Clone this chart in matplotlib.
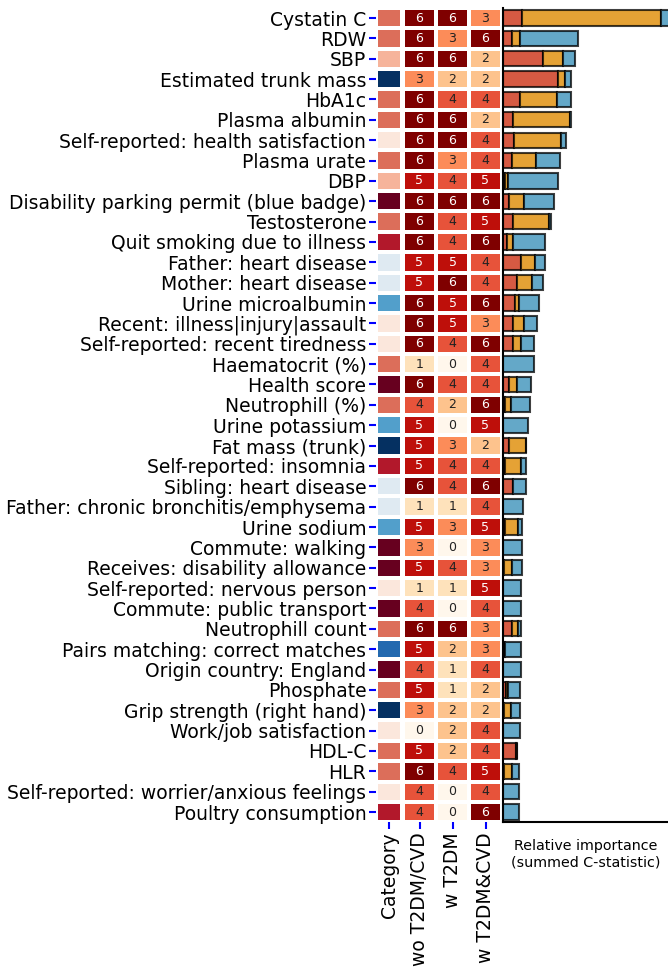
import numpy as np
import matplotlib.pyplot as plt
from matplotlib.colors import ListedColormap

FEATURES = [
    "Cystatin C", "RDW", "SBP", "Estimated trunk mass", "HbA1c", "Plasma albumin",
    "Self-reported: health satisfaction", "Plasma urate", "DBP",
    "Disability parking permit (blue badge)", "Testosterone", "Quit smoking due to illness",
    "Father: heart disease", "Mother: heart disease", "Urine microalbumin",
    "Recent: illness|injury|assault", "Self-reported: recent tiredness", "Haematocrit (%)",
    "Health score", "Neutrophill (%)", "Urine potassium", "Fat mass (trunk)",
    "Self-reported: insomnia", "Sibling: heart disease", "Father: chronic bronchitis/emphysema",
    "Urine sodium", "Commute: walking", "Receives: disability allowance",
    "Self-reported: nervous person", "Commute: public transport", "Neutrophill count",
    "Pairs matching: correct matches", "Origin country: England", "Phosphate",
    "Grip strength (right hand)", "Work/job satisfaction", "HDL-C", "HLR",
    "Self-reported: worrier/anxious feelings", "Poultry consumption",
]
CATEGORY = [
    "blood", "blood", "bp", "body", "blood", "blood",
    "psycho", "blood", "bp",
    "socio", "blood", "lifestyle",
    "family", "family", "urine",
    "psycho", "psycho", "blood",
    "socio", "blood", "urine", "body",
    "lifestyle", "family", "family",
    "urine", "socio", "socio",
    "psycho", "socio", "blood",
    "cognitive", "socio", "blood",
    "body", "psycho", "blood", "blood",
    "psycho", "lifestyle",
]
CATEGORY_NAMES = ["socio", "lifestyle", "blood", "bp", "psycho", "family", "urine", "cognitive", "body"]
CATEGORY_COLORS = ["#67001f", "#b2182b", "#dc6e5a", "#f6b49b", "#fbe7dc",
                   "#dfeaf2", "#529fcb", "#2369af", "#053061"]

RANK_COLUMNS = ["wo T2DM/CVD", "w T2DM", "w T2DM&CVD"]
RANK_WO = [6, 6, 6, 3, 6, 6, 6, 6, 5, 6, 6, 6, 5, 5, 6, 6, 6, 1, 6, 4,
           5, 5, 5, 6, 1, 5, 3, 5, 1, 4, 6, 5, 4, 5, 3, 0, 5, 6, 4, 4]
RANK_T2DM = [6, 3, 6, 2, 4, 6, 6, 3, 4, 6, 4, 4, 5, 6, 5, 5, 4, 0, 4, 2,
             0, 3, 4, 4, 1, 3, 0, 4, 1, 0, 6, 2, 1, 1, 2, 2, 2, 4, 0, 0]
RANK_BOTH = [3, 6, 2, 2, 4, 2, 4, 4, 5, 6, 5, 6, 4, 4, 6, 3, 6, 4, 4, 6,
             5, 2, 4, 6, 4, 5, 3, 3, 5, 4, 3, 3, 4, 2, 2, 4, 4, 5, 4, 6]

# summed C-statistic contributions, one list per model
IMP_WO = [0.019, 0.009, 0.040, 0.0547, 0.017, 0.0097, 0.011, 0.0093, 0.0017, 0.0057,
          0.0097, 0.0043, 0.0177, 0.0137, 0.0117, 0.0097, 0.0097, 0.0, 0.006, 0.002,
          0.0, 0.0057, 0.0023, 0.010, 0.0, 0.0023, 0.0, 0.0005, 0.0, 0.0,
          0.009, 0.002, 0.0, 0.003, 0.0005, 0.0, 0.0125, 0.001, 0.0, 0.0]
IMP_T2DM = [0.1387, 0.008, 0.0197, 0.0073, 0.0373, 0.0573, 0.0473, 0.024, 0.0033, 0.0153,
            0.036, 0.006, 0.0143, 0.0153, 0.0043, 0.0116, 0.0086, 0.0, 0.0083, 0.0063,
            0.0, 0.0173, 0.0154, 0.0, 0.0, 0.0124, 0.0, 0.0082, 0.0, 0.0,
            0.0057, 0.0, 0.0, 0.002, 0.0075, 0.0, 0.0015, 0.008, 0.0, 0.0]
IMP_BOTH = [0.012, 0.058, 0.0126, 0.006, 0.0134, 0.0005, 0.005, 0.0234, 0.050, 0.0297,
            0.0023, 0.032, 0.010, 0.0113, 0.020, 0.013, 0.013, 0.031, 0.014, 0.0184,
            0.0253, 0.0, 0.0053, 0.013, 0.0203, 0.004, 0.0187, 0.010, 0.0183, 0.0183,
            0.0033, 0.0157, 0.0177, 0.0123, 0.009, 0.017, 0.0, 0.007, 0.0157, 0.0157]

RED = "#d65a43"
ORANGE = "#e5a235"
BLUE = "#64a8c8"

n_rows = len(FEATURES)
cat_idx = np.array([[CATEGORY_NAMES.index(c)] for c in CATEGORY])
ranks = np.array([RANK_WO, RANK_T2DM, RANK_BOTH]).T

fig = plt.figure(figsize=(6.68, 9.68), dpi=100)
bottom, height = 0.1506, 0.8413
ax_cat = fig.add_axes([376 / 668, bottom, 26 / 668, height])
ax_rank = fig.add_axes([403 / 668, bottom, 99 / 668, height])
ax_bar = fig.add_axes([503 / 668, bottom, 166 / 668, height])

# category column
ax_cat.pcolormesh(np.arange(2), np.arange(n_rows + 1), cat_idx,
                  cmap=ListedColormap(CATEGORY_COLORS), vmin=-0.5, vmax=len(CATEGORY_COLORS) - 0.5,
                  edgecolors="white", linewidth=1.5)
ax_cat.set_ylim(n_rows, 0)
ax_cat.set_xlim(0, 1)
ax_cat.set_yticks(np.arange(n_rows) + 0.5)
ax_cat.set_yticklabels(FEATURES, fontsize=13.5)
ax_cat.set_xticks([0.5])
ax_cat.set_xticklabels(["Category"], rotation=90, fontsize=13.5)
ax_cat.tick_params(color="blue", length=5, width=1.5, pad=2)

# rank heatmap
ax_rank.pcolormesh(np.arange(4), np.arange(n_rows + 1), ranks, cmap="OrRd", vmin=0, vmax=6,
                   edgecolors="white", linewidth=1.5)
for row in range(n_rows):
    for col in range(3):
        rank = ranks[row, col]
        ax_rank.text(col + 0.5, row + 0.5, str(rank), ha="center", va="center",
                     fontsize=9, color="white" if rank >= 5 else "#222222")
ax_rank.set_ylim(n_rows, 0)
ax_rank.set_xlim(0, 3)
ax_rank.set_yticks([])
ax_rank.set_xticks(np.arange(3) + 0.5)
ax_rank.set_xticklabels(RANK_COLUMNS, rotation=90, fontsize=13.5)
ax_rank.tick_params(color="blue", length=5, width=1.5, pad=2)

for ax in (ax_cat, ax_rank):
    for spine in ax.spines.values():
        spine.set_visible(False)

# stacked importance bars
y = np.arange(n_rows) + 0.5
wo = np.array(IMP_WO)
t2dm = np.array(IMP_T2DM)
both = np.array(IMP_BOTH)
edge = (0, 0, 0, 0.75)
ax_bar.barh(y, wo, height=0.75, color=RED, edgecolor=edge, linewidth=1.5)
ax_bar.barh(y, t2dm, left=wo, height=0.75, color=ORANGE, edgecolor=edge, linewidth=1.5)
ax_bar.barh(y, both, left=wo + t2dm, height=0.75, color=BLUE, edgecolor=edge, linewidth=1.5)
ax_bar.set_ylim(n_rows, 0)
ax_bar.set_xlim(0, 0.166)
ax_bar.set_xticks([])
ax_bar.set_yticks([])
ax_bar.spines["top"].set_visible(False)
ax_bar.spines["right"].set_visible(False)
ax_bar.spines["left"].set_linewidth(1.5)
ax_bar.spines["bottom"].set_linewidth(1.5)
ax_bar.set_xlabel("Relative importance\n(summed C-statistic)", fontsize=10.3, labelpad=12)

fig.savefig("out.png", dpi=100)
